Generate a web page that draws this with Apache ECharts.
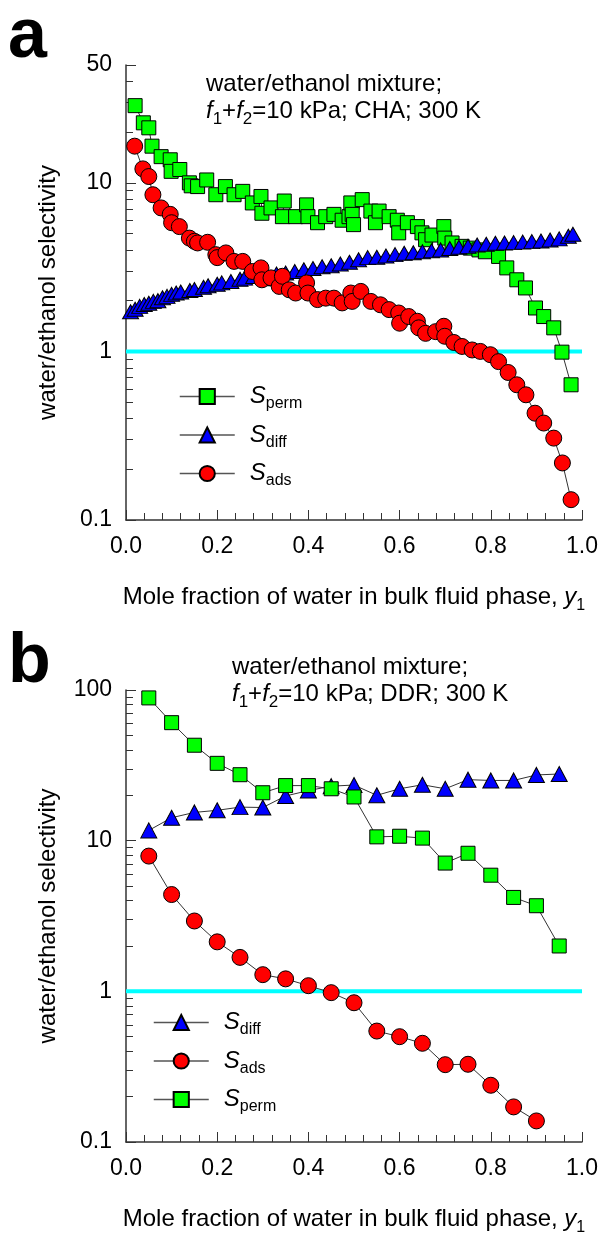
<!DOCTYPE html>
<html><head><meta charset="utf-8">
<script src="https://cdn.jsdelivr.net/npm/echarts@6/dist/echarts.min.js"></script>
<style>html,body{margin:0;padding:0;background:#fff}#c{width:601px;height:1237px}</style>
</head><body><div id="c"></div>
<script>
const FONT = '"Liberation Sans", Arial, sans-serif';

// ---------- Panel a : CHA ----------
const aPermX = [0.02,0.038,0.05,0.057,0.077,0.097,0.099,0.118,0.139,0.143,0.157,0.177,0.197,0.218,0.237,0.256,0.277,0.296,0.298,0.318,0.343,0.347,0.372,0.396,0.399,0.42,0.438,0.456,0.474,0.489,0.493,0.496,0.499,0.518,0.537,0.547,0.555,0.577,0.595,0.598,0.617,0.639,0.649,0.657,0.671,0.697,0.699,0.715,0.737,0.755,0.774,0.788,0.817,0.835,0.857,0.876,0.898,0.916,0.938,0.956,0.976];
const aPermY = [28.7,22.7,21.2,16.5,14.3,13.7,11.7,12.0,10.0,9.6,9.5,10.4,8.5,9.5,8.5,8.9,7.6,8.3,6.6,7.1,6.3,7.8,6.3,7.4,6.3,5.8,6.3,6.5,6.0,6.3,7.6,6.5,5.65,7.95,6.8,5.8,6.8,6.3,6.0,5.05,5.8,5.5,5.05,4.6,4.9,5.5,4.7,4.4,4.2,4.1,4.0,3.9,3.66,3.13,2.66,2.38,1.81,1.61,1.38,0.99,0.634];

const aDiffX = [0.01,0.02,0.03,0.04,0.05,0.06,0.07,0.08,0.09,0.10,0.11,0.12,0.14,0.15,0.17,0.18,0.20,0.21,0.23,0.25,0.26,0.28,0.30,0.31,0.33,0.35,0.37,0.39,0.41,0.43,0.45,0.47,0.49,0.51,0.53,0.55,0.57,0.59,0.61,0.63,0.65,0.67,0.69,0.71,0.73,0.75,0.77,0.79,0.81,0.83,0.85,0.87,0.89,0.91,0.93,0.95,0.97,0.98];
const aDiffY = [1.72,1.78,1.85,1.9,1.93,1.98,2.0,2.08,2.12,2.18,2.22,2.25,2.3,2.33,2.4,2.45,2.5,2.55,2.6,2.68,2.72,2.78,2.82,2.7,2.88,2.92,2.98,3.05,3.1,3.18,3.22,3.3,3.38,3.5,3.6,3.62,3.68,3.75,3.82,3.85,3.9,3.95,4.0,4.08,4.15,4.2,4.28,4.32,4.38,4.4,4.42,4.45,4.48,4.52,4.58,4.65,4.82,4.95];

const aAdsX = [0.019,0.037,0.05,0.059,0.077,0.097,0.1,0.117,0.139,0.15,0.157,0.179,0.197,0.2,0.219,0.237,0.256,0.277,0.296,0.298,0.318,0.336,0.343,0.358,0.372,0.396,0.399,0.42,0.438,0.456,0.474,0.493,0.496,0.515,0.537,0.558,0.577,0.598,0.6,0.62,0.639,0.642,0.657,0.679,0.697,0.699,0.719,0.737,0.759,0.777,0.799,0.817,0.838,0.857,0.877,0.897,0.916,0.938,0.957,0.976];
const aAdsY = [16.5,12.1,10.9,8.5,7.1,6.5,5.8,5.5,4.7,4.5,4.4,4.44,3.75,3.6,3.84,3.42,3.42,2.98,3.13,2.66,2.73,2.43,2.79,2.32,2.22,2.55,2.22,2.03,2.07,2.07,1.94,2.22,1.98,2.27,1.98,1.89,1.77,1.69,1.47,1.61,1.51,1.38,1.28,1.31,1.41,1.23,1.13,1.07,1.02,1.0,0.956,0.87,0.75,0.634,0.553,0.43,0.376,0.306,0.218,0.132];

// ---------- Panel b : DDR ----------
const bX = [0.05,0.10,0.15,0.20,0.25,0.30,0.35,0.40,0.45,0.50,0.55,0.60,0.65,0.70,0.75,0.80,0.85,0.90,0.95];
const bPermY = [88.6,60.7,43,32.6,27.4,20.8,23.2,23.2,22.1,19.5,10.6,10.7,10.4,7.1,8.25,5.9,4.2,3.7,2.0];
const bDiffY = [11.7,14.2,15.4,15.9,16.7,16.6,19.8,21.5,23.0,23.4,20.0,22.1,23.5,22.1,25.4,25.1,25.1,27.3,27.7];
const bAdsX = [0.05,0.10,0.15,0.20,0.25,0.30,0.35,0.40,0.45,0.50,0.55,0.60,0.65,0.70,0.75,0.80,0.85,0.90];
const bAdsY = [7.9,4.39,2.93,2.13,1.68,1.29,1.21,1.09,0.98,0.84,0.545,0.50,0.452,0.326,0.328,0.238,0.171,0.138];

// reference line S = 1
const refX = [0, 1];
const refY = [1, 1];

// axis ticks
const aYLabels = [0.1, 1, 10, 50];
const aYMinor = [0.2,0.3,0.4,0.5,0.6,0.7,0.8,0.9,2,3,4,5,6,7,8,9,20,30,40];
const bYLabels = [0.1, 1, 10, 100];
const bYMinor = [0.2,0.3,0.4,0.5,0.6,0.7,0.8,0.9,2,3,4,5,6,7,8,9,20,30,40,50,60,70,80,90];

const legendText = {
  a_perm: '{s|S}{sub|perm}', a_diff: '{s|S}{sub|diff}', a_ads: '{s|S}{sub|ads}',
  b_perm: '{s|S}{sub|perm}', b_diff: '{s|S}{sub|diff}', b_ads: '{s|S}{sub|ads}'
};

const zip = (xs, ys) => xs.map((x, i) => [x, ys[i]]);
const GREEN = '#00FF00', BLUE = '#0000FF', RED = '#FF0000', CYAN = '#00FFFF';
const AX = '#333';

function pts(name, xs, ys, symbol, size, color, gi) {
  return {
    type: 'line', name, xAxisIndex: gi, yAxisIndex: gi * 2,
    data: zip(xs, ys), symbol, symbolSize: size, showSymbol: true,
    itemStyle: { color, borderColor: '#000', borderWidth: 1 },
    lineStyle: { color: '#333', width: 1 },
    emphasis: { disabled: true }, z: 3, animation: false
  };
}
function refLine(gi) {
  return {
    type: 'line', name: 'ref' + gi, xAxisIndex: gi, yAxisIndex: gi * 2,
    data: zip(refX, refY), symbol: 'none',
    lineStyle: { color: CYAN, width: 4 }, z: 2, silent: true, animation: false
  };
}

function xAxis(gi) {
  return {
    type: 'value', gridIndex: gi, min: 0, max: 1, interval: 0.2,
    axisLine: { show: true, lineStyle: { color: AX, width: 1.5 } },
    axisTick: { show: true, inside: true, length: 10, lineStyle: { color: AX, width: 1 } },
    minorTick: { show: true, splitNumber: 5, length: 7, lineStyle: { color: AX, width: 1 } },
    splitLine: { show: false },
    axisLabel: { fontSize: 23, color: '#000', fontFamily: FONT, margin: 15, formatter: v => v.toFixed(1) },
    name: '{t|Mole fraction of water in bulk fluid phase, }{i|y}{sub|1}',
    nameLocation: 'middle', nameGap: 60,
    nameTextStyle: {
      fontSize: 24, color: '#000', fontFamily: FONT,
      rich: {
        t: { fontSize: 24, fontFamily: FONT, color: '#000', lineHeight: 34 },
        i: { fontSize: 24, fontStyle: 'italic', fontFamily: FONT, color: '#000', lineHeight: 34 },
        sub: { fontSize: 16, fontFamily: FONT, color: '#000', verticalAlign: 'bottom', lineHeight: 18, padding: [16, 0, 0, 0] }
      }
    }
  };
}
function yMain(gi, max, labels) {
  return {
    type: 'log', gridIndex: gi, min: 0.1, max, logBase: 10, position: 'left',
    axisLine: { show: true, lineStyle: { color: AX, width: 1.5 } },
    axisTick: { show: true, inside: true, length: 10, customValues: labels, lineStyle: { color: AX, width: 1 } },
    splitLine: { show: false },
    axisLabel: { fontSize: 23, color: '#000', fontFamily: FONT, margin: 14, customValues: labels,
      formatter: v => String(+(+v).toPrecision(6)) },
    name: 'water/ethanol selectivity', nameLocation: 'middle', nameGap: 66,
    nameTextStyle: { fontSize: 24, color: '#000', fontFamily: FONT }
  };
}
function yMinor(gi, max, minors) {
  return {
    type: 'log', gridIndex: gi, min: 0.1, max, logBase: 10, position: 'left', offset: 0,
    axisLine: { show: false },
    axisTick: { show: true, inside: true, length: 7, customValues: minors, lineStyle: { color: AX, width: 1 } },
    axisLabel: { show: false }, splitLine: { show: false }
  };
}

const legendRich = {
  s: { fontSize: 24, fontStyle: 'italic', fontFamily: FONT, color: '#000', lineHeight: 31, padding: [0, 0, 0, 10] },
  sub: { fontSize: 16, fontFamily: FONT, color: '#000', verticalAlign: 'bottom', lineHeight: 16, padding: [15, 0, 0, 0] }
};
function legend(names, left, top) {
  return {
    data: names, orient: 'vertical', left, top, itemWidth: 55, itemHeight: 19, itemGap: 7.5,
    selectedMode: false, formatter: n => legendText[n],
    textStyle: { rich: legendRich, fontFamily: FONT },
    lineStyle: { color: '#555', width: 1.5 }
  };
}

const infoRich = {
  t: { fontSize: 24, fontFamily: FONT, color: '#000', lineHeight: 34 },
  i: { fontSize: 24, fontStyle: 'italic', fontFamily: FONT, color: '#000', lineHeight: 34 },
  sub: { fontSize: 17, fontFamily: FONT, color: '#000', verticalAlign: 'bottom', lineHeight: 18, padding: [16, 0, 0, 0] }
};
function info(x, y, zeo) {
  return [
    { type: 'text', x, y, style: { text: '{t|water/ethanol mixture;}', rich: infoRich, align: 'left', verticalAlign: 'middle' } },
    { type: 'text', x, y: y + 27, style: { text: '{i|f}{sub|1}{t|+}{i|f}{sub|2}{t|=10 kPa; ' + zeo + '; 300 K}', rich: infoRich, align: 'left', verticalAlign: 'middle' } }
  ];
}

const option = {
  backgroundColor: '#fff',
  animation: false,
  grid: [
    { left: 126, width: 457, top: 65, height: 455 },
    { left: 126, width: 457, top: 690, height: 456 }
  ],
  xAxis: [xAxis(0), xAxis(1)],
  yAxis: [yMain(0, 50, aYLabels), yMinor(0, 50, aYMinor), yMain(1, 100, bYLabels), yMinor(1, 100, bYMinor)],
  legend: [
    legend(['a_perm', 'a_diff', 'a_ads'], 174, 376),
    legend(['b_diff', 'b_ads', 'b_perm'], 148, 1002)
  ],
  graphic: [
    { type: 'text', left: 8, top: 3, style: { text: 'a', fontSize: 70, fontWeight: 'bold', fontFamily: FONT, fill: '#000' } },
    { type: 'text', left: 8, top: 628, style: { text: 'b', fontSize: 70, fontWeight: 'bold', fontFamily: FONT, fill: '#000' } },
    ...info(206, 84, 'CHA'),
    ...info(232, 667, 'DDR')
  ],
  series: [
    refLine(0), refLine(1),
    pts('a_perm', aPermX, aPermY, 'rect', 14, GREEN, 0),
    pts('a_diff', aDiffX, aDiffY, 'triangle', [16, 14], BLUE, 0),
    pts('a_ads', aAdsX, aAdsY, 'circle', 16, RED, 0),
    pts('b_diff', bX, bDiffY, 'triangle', [16, 15], BLUE, 1),
    pts('b_ads', bAdsX, bAdsY, 'circle', 16, RED, 1),
    pts('b_perm', bX, bPermY, 'rect', 14, GREEN, 1)
  ]
};
const chart = echarts.init(document.getElementById('c'), null, { renderer: 'canvas' });
chart.setOption(option);
</script></body></html>
